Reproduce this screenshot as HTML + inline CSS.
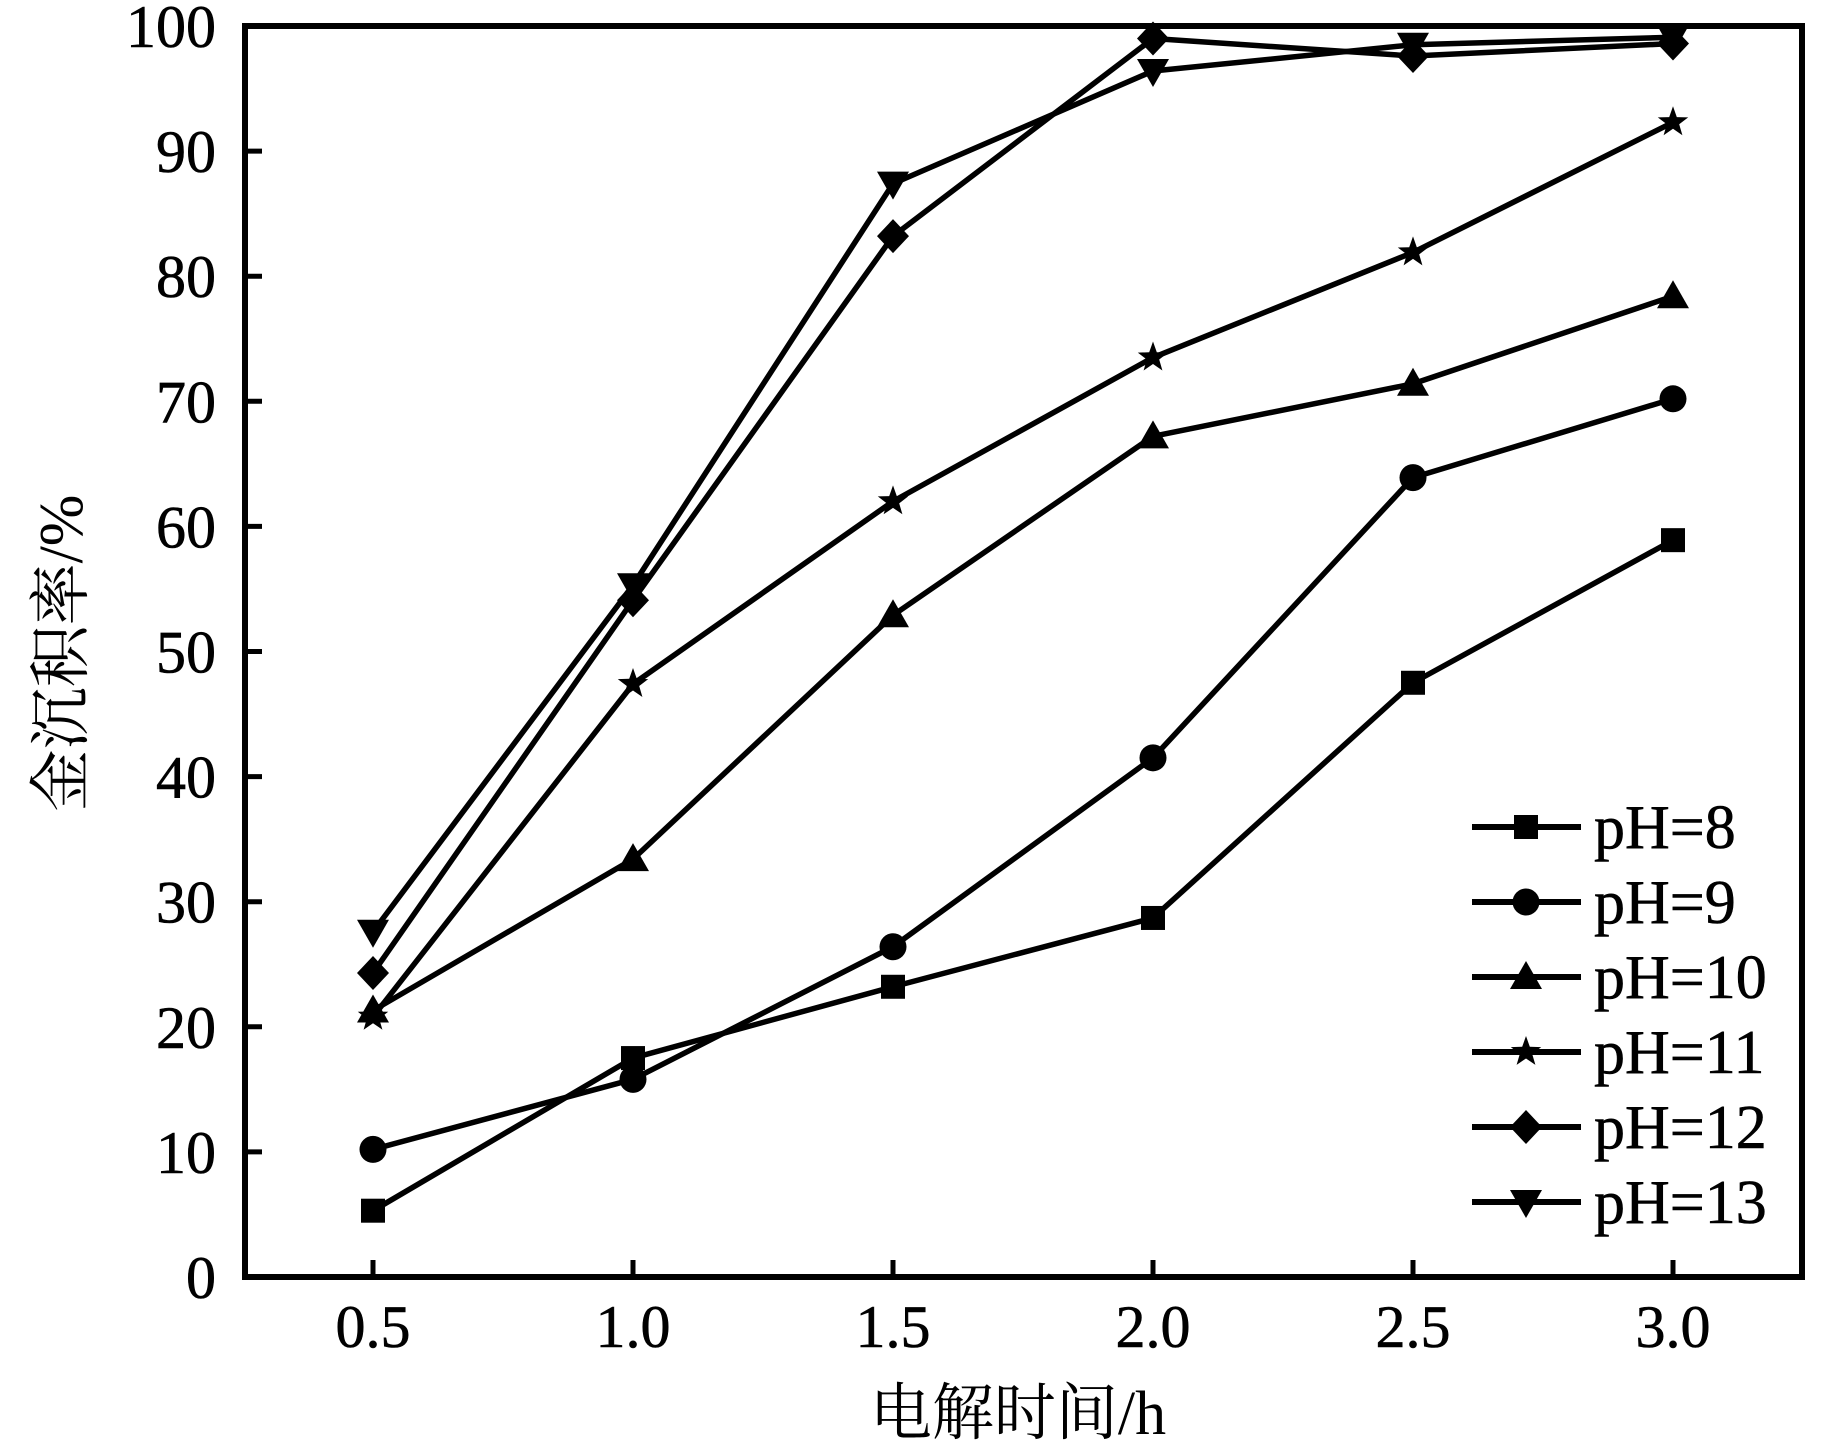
<!DOCTYPE html>
<html><head><meta charset="utf-8"><style>
html,body{margin:0;padding:0;background:#fff;}
svg{display:block;}
text{font-family:"Liberation Serif","Noto Serif CJK SC",serif;fill:#000;}
</style></head><body>
<svg id="s" width="1843" height="1454" viewBox="0 0 1843 1454" xmlns="http://www.w3.org/2000/svg">
<rect x="245" y="26" width="1557" height="1251" fill="none" stroke="#000" stroke-width="6"/>
<g id="ticks" stroke="#000" stroke-width="5"></g>
<g id="labels" font-size="60" stroke="#000" stroke-width="0.6"></g>
<g id="series"></g>
<g id="legend"></g>
<text x="1018" y="1434" font-size="62" text-anchor="middle" font-family="'Liberation Serif','Noto Serif CJK SC',serif">电解时间/h</text>
<text transform="translate(82,653) rotate(-90)" font-size="62" text-anchor="middle" font-family="'Liberation Serif','Noto Serif CJK SC',serif">金沉积率/%</text>
</svg>
<script>
var NS="http://www.w3.org/2000/svg";
function el(t,a,p){var e=document.createElementNS(NS,t);for(var k in a)e.setAttribute(k,a[k]);p.appendChild(e);return e;}
var L=245,R=1802,T=26,B=1277;
function X(v){return 373+(v-0.5)*520;}
function Y(v){return B-v*12.51;}
var tk=document.getElementById('ticks'),lb=document.getElementById('labels');
for(var i=0;i<=10;i++){var y=Y(i*10);
 if(i>0&&i<10)el('line',{x1:L,y1:y,x2:L+17,y2:y},tk);
 var t=el('text',{x:216,y:y+21,'text-anchor':'end'},lb);t.textContent=String(i*10);}
var xs=[0.5,1,1.5,2,2.5,3];
xs.forEach(function(v){var x=X(v);el('line',{x1:x,y1:B,x2:x,y2:B-17},tk);
 var t=el('text',{x:x,y:1347,'text-anchor':'middle'},lb);t.textContent=v.toFixed(1);});
var data=[
 ['sq',[5.3,17.5,23.2,28.7,47.5,58.9]],
 ['ci',[10.2,15.8,26.4,41.5,63.9,70.2]],
 ['tu',[21.3,33.4,52.9,67.2,71.4,78.4]],
 ['st',[20.8,47.4,62.0,73.5,81.9,92.3]],
 ['di',[24.3,54.1,83.2,99.0,97.6,98.6]],
 ['td',[27.6,55.3,87.4,96.4,98.5,99.1]]];
var sg=document.getElementById('series');
function marker(type,x,y,p){
 if(type=='sq')el('rect',{x:x-12,y:y-12,width:24,height:24},p);
 else if(type=='ci')el('circle',{cx:x,cy:y,r:13.5},p);
 else if(type=='tu')el('polygon',{points:(x-16)+','+(y+12)+' '+(x+16)+','+(y+12)+' '+x+','+(y-16)},p);
 else if(type=='td')el('polygon',{points:(x-16)+','+(y-12)+' '+(x+16)+','+(y-12)+' '+x+','+(y+16)},p);
 else if(type=='di')el('polygon',{points:x+','+(y-17)+' '+(x+16)+','+y+' '+x+','+(y+17)+' '+(x-16)+','+y},p);
 else if(type=='st'){var pts=[];for(var k=0;k<10;k++){var r=k%2?6.5:16,a=-Math.PI/2+k*Math.PI/5;pts.push((x+r*Math.cos(a)).toFixed(1)+','+(y+r*Math.sin(a)).toFixed(1));}el('polygon',{points:pts.join(' ')},p);}
}
data.forEach(function(d){
 var pts=d[1].map(function(v,i){return X(xs[i])+','+Y(v);}).join(' ');
 el('polyline',{points:pts,fill:'none',stroke:'#000','stroke-width':5.5,'stroke-linejoin':'round'},sg);
 d[1].forEach(function(v,i){marker(d[0],X(xs[i]),Y(v),sg);});
});
var lg=document.getElementById('legend');
var names=['pH=8','pH=9','pH=10','pH=11','pH=12','pH=13'];
data.forEach(function(d,i){var y=827+i*75;
 el('line',{x1:1472,y1:y,x2:1581,y2:y,stroke:'#000','stroke-width':6},lg);
 marker(d[0],1526,y,lg);
 var t=el('text',{x:1594,y:y+21,'font-size':62,stroke:'#000','stroke-width':0.6},lg);t.textContent=names[i];});
</script>
</body></html>
